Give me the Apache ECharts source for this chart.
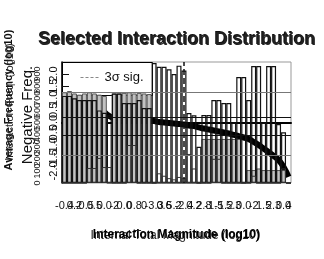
<!DOCTYPE html>
<html><head><meta charset="utf-8">
<script src="https://cdn.jsdelivr.net/npm/echarts@6/dist/echarts.min.js"></script>
<style>html,body{margin:0;padding:0;background:#fff}#c{width:324px;height:259px}</style>
</head><body><div id="c"></div>
<script>
// categories (bins) and tick labels
const xLabels = ['-0.4','','0.2','','-0.5','','0.5','','0.0','','-2','','0.0','','0.8','','0','','-3.3','','0.6','','5.2','','-2.4','','0.2','','2.8','','-1.5','','-1.2','','5.3','','0.0','','-2','','1.5','','2.3','','0.0','4'];
// filled grey histogram
const greyVals = [750,760,740,730,740,750,740,730,720,0,740,740,745,750,740,745,740,735,0,0,0,0,0,0,0,0,0,0,364,364,364,364,364,364,364,364,0,107,107,120,107,107,107,107,107,0];
// black outlined histogram
const outlineVals = [720,720,700,686,686,686,686,600,580,560,740,740,661,661,661,686,620,620,992,960,960,940,900,970,930,578,560,300,562,562,686,686,661,661,500,876,876,686,967,967,500,967,967,488,420,0];
// lower outlined histogram
const lowerVals = [0,0,0,0,0,124,124,207,132,132,0,0,0,314,314,0,0,0,0,80,60,40,30,50,40,240,120,0,0,0,200,200,0,0,0,0,0,0,60,0,0,0,0,0,120,0];
// sorted interaction curve
const curveVals = [null,null,null,null,null,null,null,null,587,554,537,534,530,527,523,520,516,514,512,504,500,496,492,488,483,475,471,459,450,442,434,426,417,409,397,388,376,364,339,314,285,256,223,190,132,50];
// significance threshold bin and reference lines
const sigBin = 24;
const hLines = [0.23, -0.52];
const hLinesGrey = [1.26, -1.34];
const legendLabel = '3σ sig.';

const chart = echarts.init(document.getElementById('c'), null, {renderer:'canvas'});
const FF = 'Liberation Sans, Arial, sans-serif';
chart.setOption({
  animation:false,
  textStyle:{fontFamily:FF},
  title:[
    {text:'Selected Interaction Distribution', left:33, top:25, textStyle:{fontSize:18, fontWeight:'bold', color:'#111', fontFamily:FF}},
    {text:'Selected Interaction Distribution', left:34, top:26, textStyle:{fontSize:18, fontWeight:'bold', color:'#222', fontFamily:FF}}
  ],
  grid:{left:62, right:33, top:62, bottom:76, show:true, borderColor:'#999', borderWidth:1},
  xAxis:{type:'category', data:xLabels, boundaryGap:true,
    axisLine:{lineStyle:{color:'#000', width:2}},
    axisTick:{length:11, interval:0, lineStyle:{color:'#111'}},
    axisLabel:{interval:0, fontSize:11, color:'#111', margin:17},
    name:'Interaction Magnitude (log10)', nameLocation:'middle', nameGap:46,
    nameTextStyle:{fontSize:12, color:'#000', fontWeight:'bold'}},
  yAxis:[
    {type:'value', min:-2.5, max:2.5, interval:0.5,
     axisLine:{show:true, lineStyle:{color:'#000', width:1.5}},
     axisTick:{show:true, inside:true, length:7, lineStyle:{color:'#111'}},
     axisLabel:{rotate:90, fontSize:11, color:'#111', margin:3, formatter:v=>v.toFixed(1)},
     splitLine:{show:false}},
    {type:'value', min:0, max:1000, interval:100, position:'left', offset:18,
     axisLine:{show:false}, axisTick:{show:false},
     axisLabel:{rotate:90, fontSize:9, color:'#222', margin:2}, splitLine:{show:false}}
  ],
  graphic:[
    {type:'text', x:28, y:115, rotation:Math.PI/2, style:{text:'Negative Freq.', fontSize:15, fill:'#111', align:'center', verticalAlign:'middle', fontFamily:FF}},
    {type:'text', x:9, y:100, rotation:Math.PI/2, style:{text:'Average Frequency (log10)', fontSize:11, fontWeight:'bold', fill:'#111', align:'center', verticalAlign:'middle', fontFamily:FF}},
    {type:'text', x:10, y:102, rotation:Math.PI/2, style:{text:'Interaction Freq. (log10)', fontSize:11, fill:'#222', align:'center', verticalAlign:'middle', fontFamily:FF}},
    {type:'text', x:175, y:236, style:{text:'Internal Total Magnitude (log10)', fontSize:12, fill:'#222', align:'center', verticalAlign:'middle', fontFamily:FF}},
    {type:'group', left:62, top:62, z:100, children:[
      {type:'rect', shape:{x:0, y:0, width:90, height:33}, style:{fill:'#fff', stroke:'#000', lineWidth:1}},
      {type:'line', shape:{x1:18, y1:15, x2:36, y2:15}, style:{stroke:'#888', lineWidth:1.2, lineDash:[3,2]}},
      {type:'text', x:42, y:15, style:{text:legendLabel, fontSize:13, fill:'#111', verticalAlign:'middle', fontFamily:FF}}
    ]}
  ],
  series:[
    {name:'curve', type:'line', yAxisIndex:1, data:curveVals, symbol:'none', smooth:true, lineStyle:{color:'#000', width:6}, z:1},
    {name:'grey', type:'bar', yAxisIndex:1, data:greyVals, barWidth:'100%', barGap:'-100%', itemStyle:{color:'#c2c2c2', borderColor:'#555', borderWidth:1}, z:2},
    {name:'outline', type:'bar', yAxisIndex:1, data:outlineVals, barWidth:'100%', barGap:'-100%', itemStyle:{color:'rgba(0,0,0,0)', borderColor:'#111', borderWidth:1.2}, z:3},
    {name:'lower', type:'bar', yAxisIndex:1, data:lowerVals, barWidth:'100%', barGap:'-100%', itemStyle:{color:'rgba(0,0,0,0)', borderColor:'#333', borderWidth:1}, z:3},
    {name:'3σ sig.', type:'line', yAxisIndex:0, data:[], symbol:'none', lineStyle:{color:'#888', type:'dashed', width:1.2}, z:4,
     markLine:{silent:true, symbol:'none', label:{show:false},
       data:[
         {xAxis:sigBin, lineStyle:{color:'#111', type:'dashed', width:1.5}},
         ...hLines.map(v=>({yAxis:v, lineStyle:{color:'#111', type:'solid', width:1}})),
         ...hLinesGrey.map(v=>({yAxis:v, lineStyle:{color:'#777', type:'solid', width:1}}))
       ]}}
  ]
});
</script></body></html>
